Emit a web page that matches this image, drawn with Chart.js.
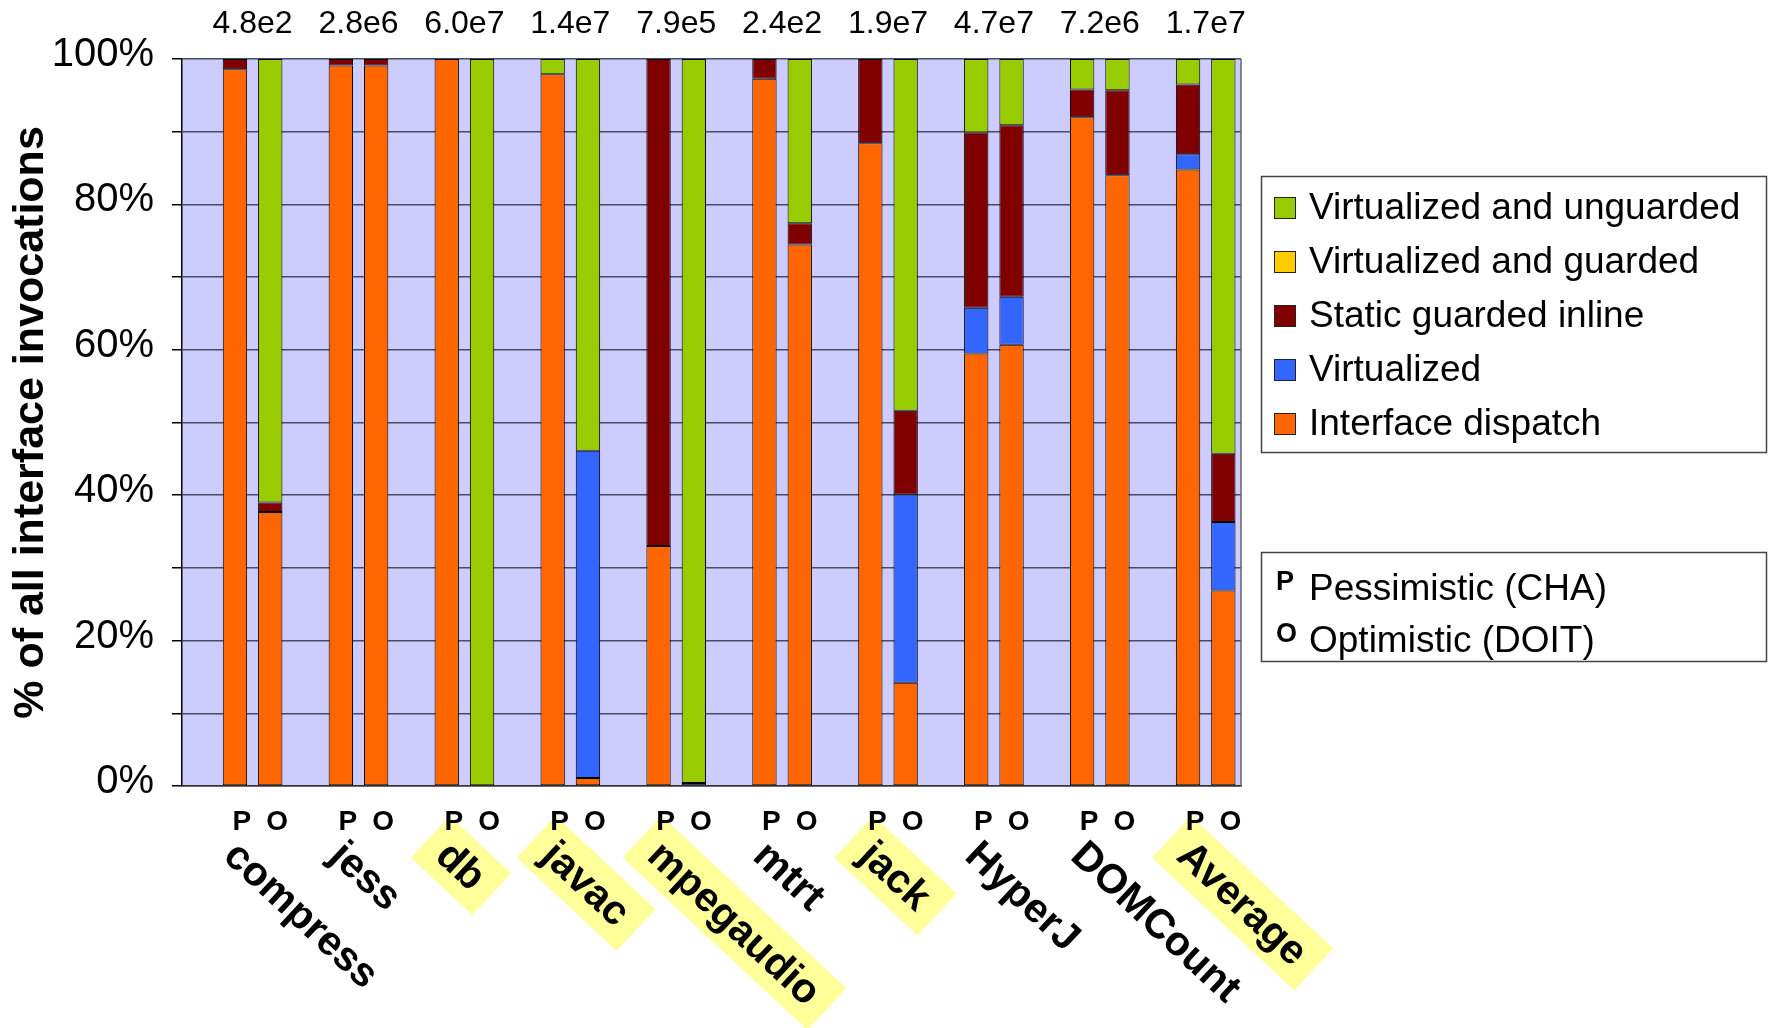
<!DOCTYPE html>
<html>
<head>
<meta charset="utf-8">
<script src="https://cdn.jsdelivr.net/npm/chart.js@4.4.1/dist/chart.umd.min.js"></script>
<style>
  html, body { margin: 0; padding: 0; background: #fff; }
  canvas { display: block; }
</style>
</head>
<body>
<canvas id="c" width="1768" height="1028"></canvas>
<script>
// Benchmarks, in plotting order, with their total interface invocation counts
const benchmarks = ['compress', 'jess', 'db', 'javac', 'mpegaudio', 'mtrt', 'jack', 'HyperJ', 'DOMCount', 'Average'];
const invocationCounts = ['4.8e2', '2.8e6', '6.0e7', '1.4e7', '7.9e5', '2.4e2', '1.9e7', '4.7e7', '7.2e6', '1.7e7'];
const highlighted = ['db', 'javac', 'mpegaudio', 'jack', 'Average'];

// Two bars per benchmark: pessimistic (CHA) then optimistic (DOIT)
const variants = ['P', 'O'];
const variantNames = ['Pessimistic (CHA)', 'Optimistic (DOIT)'];

// Share (%) of interface invocations per bar, P,O pairs in benchmark order
const interfaceDispatch     = [98.6, 37.7, 99.1, 99.1, 100, 0, 97.9, 1.1, 33.0, 0, 97.3, 74.5, 88.4, 14.2, 59.5, 60.7, 92.0, 84.0, 84.8, 26.9];
const virtualized           = [0, 0, 0, 0, 0, 0, 0, 45.0, 0, 0.4, 0, 0, 0, 25.9, 6.3, 6.6, 0, 0, 2.1, 9.4];
const staticGuardedInline   = [1.4, 1.3, 0.9, 0.9, 0, 0, 0, 0, 67.0, 0, 2.7, 2.9, 11.6, 11.5, 24.1, 23.6, 3.8, 11.7, 9.6, 9.4];
const virtualizedGuarded    = [0, 0, 0, 0, 0, 0, 0, 0, 0, 0, 0, 0, 0, 0, 0, 0, 0, 0, 0, 0];
const virtualizedUnguarded  = [0, 61.0, 0, 0, 0, 100, 2.1, 53.9, 0, 99.6, 0, 22.6, 0, 48.4, 10.1, 9.1, 4.2, 4.3, 3.5, 54.3];

const yTickLabels = ['0%', '20%', '40%', '60%', '80%', '100%'];

const FONT = "'Liberation Sans', Arial, Helvetica, sans-serif";

// Each benchmark occupies three slots on the category axis: a spacer, P, O
const slotLabels = [];
benchmarks.forEach(() => { slotLabels.push('', variants[0], variants[1]); });

function toSlots(values) {
  const out = [];
  benchmarks.forEach((_, i) => { out.push(null, values[2 * i], values[2 * i + 1]); });
  return out;
}

const series = [
  { label: 'Interface dispatch', values: interfaceDispatch, color: '#FF6600' },
  { label: 'Virtualized', values: virtualized, color: '#3366FF' },
  { label: 'Static guarded inline', values: staticGuardedInline, color: '#800000' },
  { label: 'Virtualized and guarded', values: virtualizedGuarded, color: '#FFCC00' },
  { label: 'Virtualized and unguarded', values: virtualizedUnguarded, color: '#99CC00' }
];

const decor = {
  id: 'decor',
  beforeDraw(chart) {
    const { ctx, chartArea: a, scales: { x } } = chart;
    ctx.save();
    ctx.fillStyle = '#fff';
    ctx.fillRect(0, 0, chart.width, chart.height);
    ctx.fillStyle = '#CCCCFF';
    ctx.fillRect(a.left, a.top, a.right - a.left, a.bottom - a.top);

    // Rotated benchmark names under each P/O pair
    ctx.font = `bold 41px ${FONT}`;
    const angle = 43 * Math.PI / 180;
    benchmarks.forEach((name, i) => {
      const px = x.getPixelForValue(3 * i + 1);
      const w = ctx.measureText(name).width;
      const bw = w + 34, bh = 57;
      ctx.save();
      ctx.translate(px + 3, 816);
      ctx.rotate(angle);
      if (highlighted.includes(name)) {
        ctx.fillStyle = '#FFFF99';
        ctx.fillRect(0, 0, bw, bh);
      }
      ctx.fillStyle = '#000';
      ctx.textAlign = 'left';
      ctx.textBaseline = 'middle';
      ctx.fillText(name, 17, bh / 2 + 2);
      ctx.restore();
    });
    ctx.restore();
  },
  afterDraw(chart) {
    const { ctx, chartArea: a, scales: { x } } = chart;
    ctx.save();

    // Right frame of the plot area
    ctx.strokeStyle = '#666';
    ctx.lineWidth = 1.5;
    ctx.beginPath();
    ctx.moveTo(a.right, a.top);
    ctx.lineTo(a.right, a.bottom);
    ctx.stroke();

    // Invocation totals above each pair
    ctx.fillStyle = '#000';
    ctx.font = `32px ${FONT}`;
    ctx.textAlign = 'center';
    ctx.textBaseline = 'middle';
    benchmarks.forEach((_, i) => {
      const p = x.getPixelForValue(3 * i + 1);
      const o = x.getPixelForValue(3 * i + 2);
      ctx.fillText(invocationCounts[i], (p + o) / 2, 24);
    });

    // Series legend
    ctx.strokeStyle = '#444';
    ctx.lineWidth = 1.5;
    ctx.strokeRect(1261.5, 176.5, 505, 276);
    ctx.font = `37px ${FONT}`;
    ctx.textAlign = 'left';
    ctx.textBaseline = 'middle';
    chart.data.datasets.slice().reverse().forEach((ds, k) => {
      const cy = 208 + k * 54;
      ctx.fillStyle = ds.backgroundColor;
      ctx.fillRect(1274, cy - 11, 22, 22);
      ctx.strokeStyle = '#222';
      ctx.lineWidth = 1;
      ctx.strokeRect(1274.5, cy - 10.5, 21, 21);
      ctx.fillStyle = '#000';
      ctx.fillText(ds.label, 1309, cy + 1);
    });

    // Variant legend
    ctx.strokeStyle = '#444';
    ctx.lineWidth = 1.5;
    ctx.strokeRect(1261.5, 552.5, 505, 109);
    variants.forEach((v, k) => {
      const cy = 589 + k * 52;
      ctx.font = `bold 27px ${FONT}`;
      ctx.textBaseline = 'alphabetic';
      ctx.fillStyle = '#000';
      ctx.fillText(v, 1276, cy + 1);
      ctx.font = `37px ${FONT}`;
      ctx.textBaseline = 'middle';
      ctx.fillText(variantNames[k], 1309, cy + 1);
    });

    ctx.restore();
  }
};

new Chart(document.getElementById('c'), {
  type: 'bar',
  data: {
    labels: slotLabels,
    datasets: series.map(s => ({
      label: s.label,
      data: toSlots(s.values),
      backgroundColor: s.color,
      borderColor: '#000',
      borderWidth: 1,
      borderSkipped: false,
      categoryPercentage: 1,
      barPercentage: 0.69
    }))
  },
  options: {
    responsive: false,
    animation: false,
    devicePixelRatio: 1,
    layout: { padding: { left: 0, top: 59, right: 527, bottom: 0 } },
    plugins: { legend: { display: false }, tooltip: { enabled: false } },
    scales: {
      x: {
        stacked: true,
        grid: { display: false },
        border: { display: true, color: '#333', width: 1.5 },
        ticks: {
          autoSkip: false, maxRotation: 0, minRotation: 0,
          padding: 11, labelOffset: 7, color: '#000',
          font: { family: FONT, size: 28, weight: 'bold' }
        },
        afterFit(s) { s.height = 242; }
      },
      y: {
        stacked: true,
        min: 0,
        max: 100,
        ticks: {
          stepSize: 10, autoSkip: false, padding: 18, labelOffset: -4, color: '#000',
          font: { family: FONT, size: 40 },
          callback: v => (v % 20 === 0 ? yTickLabels[v / 20] : '')
        },
        grid: { color: '#4a4a60', lineWidth: 1.5, drawTicks: true, tickLength: 10, tickColor: '#000' },
        border: { display: true, color: '#000', width: 1.5 },
        title: {
          display: true,
          text: '% of all interface invocations',
          color: '#000',
          font: { family: FONT, size: 43, weight: 'bold' },
          padding: { top: 5, bottom: 0 }
        },
        afterFit(s) { s.width = 182; }
      }
    }
  },
  plugins: [decor]
});
</script>
</body>
</html>
